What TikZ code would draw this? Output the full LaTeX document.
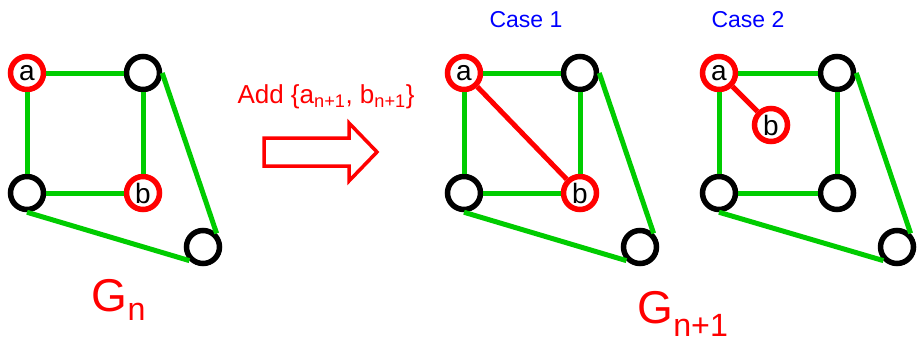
\documentclass[tikz,border=0pt]{standalone}
\usepackage{fontspec}
\setmainfont{Liberation Sans}
\usetikzlibrary{positioning}

\definecolor{edgegreen}{RGB}{0,204,0}
\definecolor{pptred}{RGB}{255,0,0}
\definecolor{pptblue}{RGB}{0,0,255}

\tikzset{
    vtx/.style={circle, draw=black, line width=5.5pt, fill=white, minimum size=33pt,
        inner sep=0pt, outer sep=2.75pt, font=\fontsize{28}{30}\selectfont},
    redvtx/.style={vtx, draw=pptred},
    gedge/.style={edgegreen, line width=5pt},
    redge/.style={pptred, line width=5pt},
    lbl/.style={font=\fontsize{23}{26}\selectfont}
}

\begin{document}
\begin{tikzpicture}[x=1pt, y=-1pt]
    \useasboundingbox (0,0) rectangle (920,343);

    % Graph G_n
    \node[redvtx] (a1) at (27,73) {a};
    \node[vtx] (t1) at (143,73) {};
    \node[vtx] (l1) at (27,193) {};
    \node[redvtx] (b1) at (143,193) {b};
    \node[vtx] (r1) at (203,247) {};
    \draw[gedge] (a1) -- (t1);
    \draw[gedge] (a1) -- (l1);
    \draw[gedge] (t1) -- (b1);
    \draw[gedge] (l1) -- (b1);
    \draw[gedge] (l1.south) -- (r1.south west);
    \draw[gedge] (t1.east) -- (r1.north east);
    \node[pptred, font=\fontsize{46}{50}\selectfont] (gn) at (119,300) {G\textsubscript{n}};

    % Arrow with label
    \node[pptred, font=\fontsize{26}{28}\selectfont] (add) at (326,97)
        {Add \{a\textsubscript{n+1}, b\textsubscript{n+1}\}};
    \draw[pptred, line width=3.5pt, line join=miter]
        (264,138) -- (349,138) -- (349,123) -- (377,152) -- (349,181) -- (349,166) -- (264,166) -- cycle;

    % Case 1
    \node[pptblue, lbl] (case1) at (526,20) {Case 1};
    \node[redvtx] (a2) at (464,73) {a};
    \node[vtx] (t2) at (580,73) {};
    \node[vtx] (l2) at (464,193) {};
    \node[redvtx] (b2) at (580,193) {b};
    \node[vtx] (r2) at (640,247) {};
    \draw[gedge] (a2) -- (t2);
    \draw[gedge] (a2) -- (l2);
    \draw[gedge] (t2) -- (b2);
    \draw[gedge] (l2) -- (b2);
    \draw[gedge] (l2.south) -- (r2.south west);
    \draw[gedge] (t2.east) -- (r2.north east);
    \draw[redge] (a2) -- (b2);

    % Case 2
    \node[pptblue, lbl] (case2) at (748,20) {Case 2};
    \node[redvtx] (a3) at (719,73) {a};
    \node[vtx] (t3) at (837,73) {};
    \node[vtx] (l3) at (719,193) {};
    \node[vtx] (m3) at (837,193) {};
    \node[vtx] (r3) at (897,247) {};
    \node[redvtx] (b3) at (771,125) {b};
    \draw[gedge] (a3) -- (t3);
    \draw[gedge] (a3) -- (l3);
    \draw[gedge] (t3) -- (m3);
    \draw[gedge] (l3) -- (m3);
    \draw[gedge] (l3.south) -- (r3.south west);
    \draw[gedge] (t3.east) -- (r3.north east);
    \draw[redge] (a3) -- (b3);
    \node[pptred, font=\fontsize{46}{50}\selectfont] (gn1) at (683,314) {G\textsubscript{n+1}};
\end{tikzpicture}
\end{document}
